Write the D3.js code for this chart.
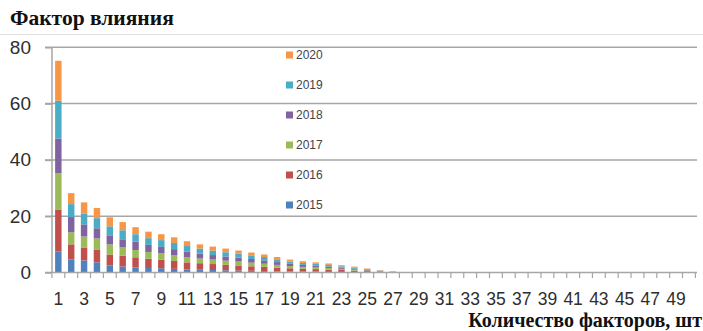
<!DOCTYPE html>
<html>
<head>
<meta charset="utf-8">
<script src="https://cdn.jsdelivr.net/npm/d3@7"></script>
<style>
  html, body { margin: 0; padding: 0; background: #fff; }
  svg { display: block; }
</style>
</head>
<body>
<svg id="chart" width="703" height="331"></svg>
<script>
// Number of factors (x categories)
const categories = [1,2,3,4,5,6,7,8,9,10,11,12,13,14,15,16,17,18,19,20,21,22,23,24,25,
  26,27,28,29,30,31,32,33,34,35,36,37,38,39,40,41,42,43,44,45,46,47,48,49,50];

// Labelled ticks on the x axis
const xTickLabels = [1,3,5,7,9,11,13,15,17,19,21,23,25,27,29,31,33,35,37,39,41,43,45,47,49];

// Value axis ticks
const yTicks = [0, 20, 40, 60, 80];

// Series (stacked bottom to top), one value per category; missing ones are zero
const years = ["2015", "2016", "2017", "2018", "2019", "2020"];
const v2015 = [7.5,4.6,4.3,3.6,2.5,2.1,1.8,1.6,1.5,1.3,1.1,1.0,0.9,0.8,0.7,0.6,0.5,0.4,0.4,0.3,0.3,0.2,0.2,0.1,0.1,0,0];
const v2016 = [14.9,5.4,4.6,4.6,3.9,3.9,3.6,3.3,3.0,2.8,2.5,2.3,2.1,1.9,1.8,1.6,1.5,1.3,1.1,1.0,0.9,0.8,0.7,0.6,0.4,0.4,0.3];
const v2017 = [12.9,4.3,3.9,3.9,3.6,2.9,2.6,2.4,2.3,2.1,1.9,1.7,1.6,1.5,1.4,1.3,1.1,1.0,0.8,0.7,0.6,0.6,0.4,0.3,0.2,0.1,0];
const v2018 = [12.3,5.4,4.3,3.6,3.2,2.9,2.9,2.5,2.3,2.1,1.9,1.7,1.6,1.5,1.4,1.3,1.2,1.0,0.8,0.7,0.6,0.5,0.4,0.3,0.2,0.1,0];
const v2019 = [13.4,4.6,3.9,3.6,3.2,3.2,2.7,2.4,2.4,2.2,2.0,1.8,1.6,1.5,1.4,1.3,1.2,1.0,0.8,0.7,0.7,0.6,0.5,0.5,0.3,0.1,0];
const v2020 = [14.2,3.9,3.9,3.6,3.2,2.9,2.5,2.3,2.1,2.0,1.7,1.5,1.4,1.3,1.1,1.0,0.9,0.8,0.7,0.6,0.5,0.5,0.4,0.3,0.2,0.1,0.1];
const seriesValues = [v2015, v2016, v2017, v2018, v2019, v2020];
const colors = ["#4F81BD", "#C0504D", "#9BBB59", "#8064A2", "#4BACC6", "#F79646"];

// Table for the stack layout
const table = categories.map((c, i) => {
  const row = { cat: c };
  years.forEach((y, k) => { row[y] = seriesValues[k][i] || 0; });
  return row;
});

const svg = d3.select("#chart");

const x = d3.scaleBand()
  .domain(categories)
  .range([51.9, 695.4])
  .paddingInner(0.5)
  .paddingOuter(0.25);

const y = d3.scaleLinear().domain([0, 80]).range([272.5, 47.3]);

const gridColor = "#a6a6a6";
const textColor = "#2e2e2e";
const numFont = "'Liberation Sans', Arial, sans-serif";
const titleFont = "'Liberation Serif', 'Times New Roman', serif";

// Thin rule under the title
svg.append("line")
  .attr("x1", 0).attr("x2", 703).attr("y1", 34.5).attr("y2", 34.5)
  .attr("stroke", "#e2e2e2").attr("stroke-width", 1);

// Horizontal gridlines (with tick stubs to the left of the axis)
svg.append("g")
  .selectAll("line")
  .data(yTicks.filter(t => t > 0))
  .join("line")
  .attr("x1", 45).attr("x2", 697)
  .attr("y1", d => y(d)).attr("y2", d => y(d))
  .attr("stroke", gridColor).attr("stroke-width", 1.5);

// Stacked bars
const stack = d3.stack().keys(years);
const layers = stack(table);

svg.append("g")
  .selectAll("g")
  .data(layers)
  .join("g")
  .attr("fill", (d, i) => colors[i])
  .selectAll("rect")
  .data(d => d.filter(s => s[1] - s[0] > 0))
  .join("rect")
  .attr("x", d => x(d.data.cat))
  .attr("width", x.bandwidth())
  .attr("y", d => y(d[1]))
  .attr("height", d => y(d[0]) - y(d[1]));

// Y axis
const yAxis = d3.axisLeft(y).tickValues(yTicks).tickSize(7).tickPadding(14).tickFormat(d3.format("d"));
const gy = svg.append("g").attr("transform", "translate(52,0)").call(yAxis);
gy.select(".domain").attr("stroke", gridColor).attr("stroke-width", 1.5).attr("d", "M0,272.5V47.3");
gy.selectAll(".tick line").attr("stroke", gridColor).attr("stroke-width", 1.5);
gy.selectAll(".tick text")
  .attr("fill", textColor)
  .style("font-family", numFont)
  .style("font-size", "19px");

// X axis: tick marks at category boundaries
const gx = svg.append("g");
gx.append("line")
  .attr("x1", 45).attr("x2", 697)
  .attr("y1", y(0)).attr("y2", y(0))
  .attr("stroke", gridColor).attr("stroke-width", 1.5);
const step = x.step();
gx.selectAll("line.tk")
  .data(categories.concat([categories.length + 1]))
  .join("line")
  .attr("class", "tk")
  .attr("x1", (d, i) => 51.9 + i * step)
  .attr("x2", (d, i) => 51.9 + i * step)
  .attr("y1", y(0)).attr("y2", y(0) + 5.5)
  .attr("stroke", gridColor).attr("stroke-width", 1.2);

gx.selectAll("text")
  .data(xTickLabels)
  .join("text")
  .attr("x", d => x(d) + x.bandwidth() / 2)
  .attr("y", 305)
  .attr("text-anchor", "middle")
  .attr("fill", textColor)
  .style("font-family", numFont)
  .style("font-size", "17.5px")
  .text(d => d);

// Legend (top entry is the top of the stack)
const legend = svg.append("g").attr("transform", "translate(286,0)");
const legendYears = years.slice().reverse();
legendYears.forEach((yr, i) => {
  const cy = 55 + i * 30;
  legend.append("rect")
    .attr("x", 0).attr("y", cy - 3.5).attr("width", 7).attr("height", 7)
    .attr("fill", colors[years.indexOf(yr)]);
  legend.append("text")
    .attr("x", 10).attr("y", cy + 4.2)
    .attr("fill", "#444")
    .style("font-family", numFont)
    .style("font-size", "12px")
    .text(yr);
});

// Axis titles
svg.append("text")
  .attr("x", 10).attr("y", 25)
  .attr("fill", "#111")
  .style("font-family", titleFont)
  .style("font-weight", "bold")
  .style("font-size", "21.5px")
  .text("Фактор влияния");

svg.append("text")
  .attr("x", 702).attr("y", 327)
  .attr("text-anchor", "end")
  .attr("fill", "#111")
  .style("font-family", titleFont)
  .style("font-weight", "bold")
  .style("font-size", "20px")
  .text("Количество факторов, шт");
</script>
</body>
</html>
